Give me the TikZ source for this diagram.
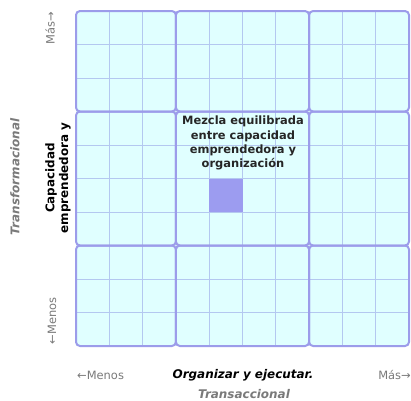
\documentclass[tikz,border=0pt]{standalone}
\usepackage{fontspec}
\setmainfont{DejaVu Sans}
\begin{document}
\begin{tikzpicture}[x=1bp,y=-1bp,
  cellline/.style={draw=gridthin, line width=0.9bp},
  section/.style={draw=gridthick, line width=2bp, rounded corners=4bp},
  axisgray/.style={text=labelgray, font=\fontsize{11.5}{13}\selectfont, inner sep=0pt},
  axistitle/.style={text=labelgray, font=\fontsize{12}{14}\selectfont\bfseries\itshape, inner sep=0pt},
  axisname/.style={text=black, font=\fontsize{12}{14}\selectfont\bfseries, inner sep=0pt, align=center},
]
\definecolor{gridfill}{HTML}{E0FFFF}
\definecolor{gridthin}{HTML}{B4C8F0}
\definecolor{gridthick}{HTML}{9C9CEA}
\definecolor{hilite}{HTML}{9C9CF0}
\definecolor{labelgray}{HTML}{7A7A7A}
\useasboundingbox (0,0) rectangle (411,401);
\fill[white] (0,0) rectangle (411,401);
% grid
\def\xa{76}\def\ya{11}\def\cw{33.3}\def\ch{33.5}
\fill[gridfill] (\xa,\ya) rectangle (409,346);
\foreach \k in {1,2,4,5,6,8,9} {
  \draw[cellline] (\xa+\k*\cw,\ya) -- (\xa+\k*\cw,346);
  \draw[cellline] (\xa,\ya+\k*\ch) -- (409,\ya+\k*\ch);
}
% highlighted cell
\fill[hilite] (\xa+4*\cw,\ya+5*\ch) rectangle (\xa+5*\cw,\ya+6*\ch);
% sections
\foreach \xs/\xe in {0/3,3/7,7/10} {
  \foreach \ys/\ye in {0/3,3/7,7/10} {
    \draw[section] (\xa+\xs*\cw,\ya+\ys*\ch) rectangle (\xa+\xe*\cw,\ya+\ye*\ch);
  }
}
% center text
\node[font=\fontsize{11.5}{14.3}\selectfont\bfseries, align=center, text=black!85, inner sep=0pt, anchor=north] (mix) at (243,116) {Mezcla equilibrada\\entre capacidad\\emprendedora y\\organización};
% left axis
\node[axisgray, rotate=90] (ymas) at (50,28) {Más→};
\node[axisgray, rotate=90] (ymenos) at (52,321) {←Menos};
\node[axisname, rotate=90] (yname) at (58,178) {Capacidad\\emprendedora y};
\node[axistitle, rotate=90] (ytitle) at (15,177) {Transformacional};
% bottom axis
\node[axisgray, anchor=west] (xmenos) at (77,375) {←Menos};
\node[axisname, font=\fontsize{12}{14}\selectfont\bfseries\itshape] (xname) at (243,375) {Organizar y ejecutar.};
\node[axisgray, anchor=east] (xmas) at (411,375) {Más→};
\node[axistitle] (xtitle) at (244,394) {Transaccional};
\end{tikzpicture}
\end{document}
